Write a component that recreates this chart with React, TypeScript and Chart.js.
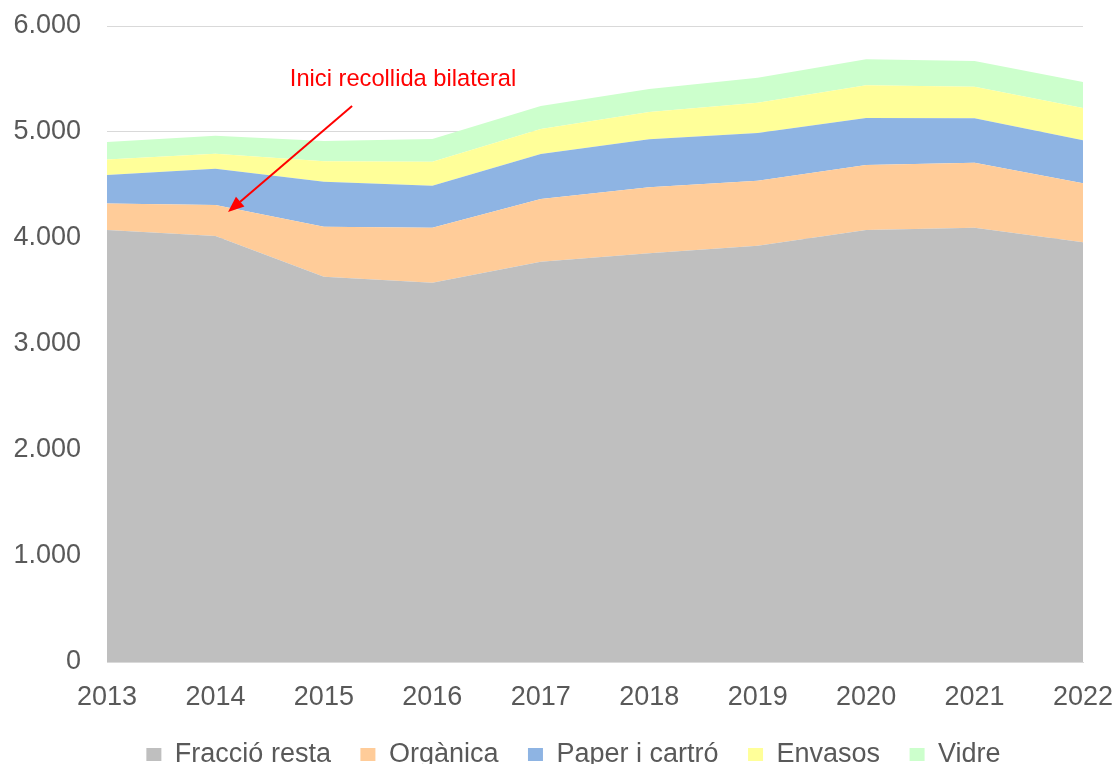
import React, { useEffect, useRef } from "react";
import { Chart, registerables } from "chart.js";

Chart.register(...registerables);

const years = ["2013", "2014", "2015", "2016", "2017", "2018", "2019", "2020", "2021", "2022"];
const fraccioResta = [4075, 4019, 3635, 3578, 3776, 3855, 3928, 4075, 4097, 3959];
const organica = [250, 292, 472, 519, 592, 623, 613, 614, 614, 557];
const paperCartro = [269, 343, 424, 396, 424, 453, 450, 443, 418, 406];
const envasos = [147, 141, 192, 227, 236, 258, 286, 308, 298, 304];
const vidre = [165, 170, 192, 214, 217, 217, 235, 246, 243, 246];

const seriesNames = ["Fracció resta", "Orgànica", "Paper i cartró", "Envasos", "Vidre"];
const seriesColors = ["#BFBFBF", "#FFCC99", "#8EB4E3", "#FFFF99", "#CCFFCC"];

const yTickValues = [0, 1000, 2000, 3000, 4000, 5000, 6000];
const yTickLabels = ["0", "1.000", "2.000", "3.000", "4.000", "5.000", "6.000"];

// annotation (data coordinates: category index, value)
const annotationText = "Inici recollida bilateral";
const annotationTextAt = [2.73, 5434];
const annotationArrowFrom = [2.26, 5245];
const annotationArrowTo = [1.116, 4245];

const FONT = "'Liberation Sans', Arial, sans-serif";
const TEXT_COLOR = "#595959";
const LEGEND_PADDING = 29.5;
const LEGEND_SHIFT = 32;
const CANVAS_H = 778;

const annotationPlugin = {
  id: "arrowAnnotation",
  afterLayout(chart: any) {
    const lg = chart.legend;
    if (lg) {
      lg.left += LEGEND_SHIFT;
      lg.right += LEGEND_SHIFT;
    }
  },
  afterDatasetsDraw(chart: any) {
    const { ctx, scales } = chart;
    const xs = scales.x;
    const ys = scales.y;
    const px = (i: number) => xs.getPixelForValue(i);
    const py = (v: number) => ys.getPixelForValue(v);
    ctx.save();
    ctx.fillStyle = "#FF0000";
    ctx.strokeStyle = "#FF0000";
    ctx.font = `23.7px ${FONT}`;
    ctx.textAlign = "center";
    ctx.textBaseline = "alphabetic";
    ctx.fillText(annotationText, px(annotationTextAt[0]), py(annotationTextAt[1]));
    const x1 = px(annotationArrowFrom[0]);
    const y1 = py(annotationArrowFrom[1]);
    const x2 = px(annotationArrowTo[0]);
    const y2 = py(annotationArrowTo[1]);
    const ang = Math.atan2(y2 - y1, x2 - x1);
    const headLen = 16;
    const headHalf = 6.5;
    const bx = x2 - headLen * Math.cos(ang);
    const by = y2 - headLen * Math.sin(ang);
    ctx.lineWidth = 2;
    ctx.beginPath();
    ctx.moveTo(x1, y1);
    ctx.lineTo(bx, by);
    ctx.stroke();
    ctx.beginPath();
    ctx.moveTo(x2, y2);
    ctx.lineTo(bx + headHalf * Math.sin(ang), by - headHalf * Math.cos(ang));
    ctx.lineTo(bx - headHalf * Math.sin(ang), by + headHalf * Math.cos(ang));
    ctx.closePath();
    ctx.fill();
    ctx.restore();
  },
};

export default function App() {
  const ref = useRef<HTMLCanvasElement | null>(null);

  useEffect(() => {
    if (!ref.current) return;
    const values = [fraccioResta, organica, paperCartro, envasos, vidre];
    const chart = new Chart(ref.current, {
      type: "line",
      data: {
        labels: years,
        datasets: values.map((d, i) => ({
          label: seriesNames[i],
          data: d,
          backgroundColor: seriesColors[i],
          borderColor: "rgba(0,0,0,0)",
          borderWidth: 0,
          pointRadius: 0,
          pointHoverRadius: 0,
          tension: 0,
          fill: i === 0 ? "origin" : "-1",
        })),
      },
      options: {
        animation: false,
        responsive: false,
        maintainAspectRatio: false,
        layout: { padding: { top: 26, right: 34, left: 0, bottom: 0 } },
        plugins: {
          legend: {
            position: "bottom",
            labels: {
              font: { family: FONT, size: 27 },
              color: TEXT_COLOR,
              boxWidth: 15,
              boxHeight: 13,
              padding: LEGEND_PADDING,
            },
          },
          tooltip: { enabled: false },
        },
        scales: {
          x: {
            type: "category",
            offset: false,
            grid: { display: false },
            border: { display: true, color: "#D9D9D9" },
            ticks: {
              font: { family: FONT, size: 27 },
              color: TEXT_COLOR,
              padding: 11,
              maxRotation: 0,
              autoSkip: false,
            },
            afterFit: (scale: any) => {
              scale.height = CANVAS_H - 37 - LEGEND_PADDING - 662;
              scale.paddingLeft = 0;
              scale.paddingRight = 0;
            },
          },
          y: {
            stacked: true,
            min: 0,
            max: 6000,
            grid: { color: "#D9D9D9", lineWidth: 1, drawTicks: false },
            border: { display: false },
            afterBuildTicks: (scale: any) => {
              scale.ticks = yTickValues.map((v) => ({ value: v }));
            },
            ticks: {
              font: { family: FONT, size: 27 },
              color: TEXT_COLOR,
              padding: 26,
              callback: (v: any) => {
                const idx = yTickValues.indexOf(Number(v));
                return idx >= 0 ? yTickLabels[idx] : "";
              },
            },
            afterFit: (scale: any) => {
              scale.width = 107;
              scale.paddingTop = 0;
              scale.paddingBottom = 0;
            },
          },
        },
      },
      plugins: [annotationPlugin],
    });
    return () => chart.destroy();
  }, []);

  return (
    <div style={{ position: "fixed", left: 0, top: 0, width: 1117, height: CANVAS_H, background: "#fff" }}>
      <canvas ref={ref} width={1117} height={CANVAS_H} style={{ width: 1117, height: CANVAS_H, display: "block" }} />
    </div>
  );
}
